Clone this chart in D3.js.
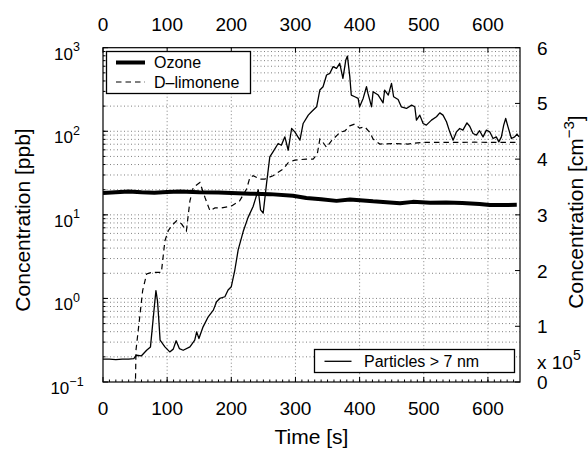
<!DOCTYPE html>
<html lang="en">
<head>
    <meta charset="UTF-8">
    <title>Ozone, D-limonene and particles</title>
    <script src="https://cdn.jsdelivr.net/npm/d3@7"></script>
    <style>
        body { margin: 0; background: #fff; }
        text { font-family: "Liberation Sans", Arial, Helvetica, sans-serif; fill: #000; }
    </style>
</head>
<body>
    <div id="chart"></div>
    <script>
        // data
        const timeTicks = [0, 100, 200, 300, 400, 500, 600];
        const ppbTicks = [0.1, 1, 10, 100, 1000];
        const ppbExponents = ["\u22121", "0", "1", "2", "3"];
        const particleTicks = [0, 1, 2, 3, 4, 5, 6];

        const ozoneTime = [0, 20, 40, 60, 80, 100, 120, 150, 180, 200, 230, 260, 296, 317, 340, 364, 385, 421, 447, 463, 483, 510, 535, 560, 587, 603, 625, 645];
        const ozonePpb = [18.3, 18.7, 19.0, 18.6, 18.4, 18.8, 19.0, 18.6, 18.5, 18.2, 17.9, 17.7, 16.9, 15.9, 15.4, 14.7, 15.3, 14.5, 14.1, 13.8, 14.3, 14.0, 14.1, 13.9, 13.5, 13.1, 13.1, 13.2];

        const limoneneTime = [50, 51.4, 56.6, 61.8, 68, 76, 91, 96.5, 101.7, 107,
            114.7, 122.6, 130, 135.5, 140.7, 151, 159, 166.7, 174.5, 185,
            200.5, 213, 223.8, 229, 234, 244.5, 252, 265, 281, 289,
            299, 317, 327.6, 334, 338, 343, 348.5, 356, 364, 369,
            377, 384.7, 392.5, 400, 408, 416, 421, 431.5, 454, 475,
            496, 537, 579, 620, 646];
        const limonenePpb = [0.05, 0.24, 0.54, 1.24, 1.96, 2.05, 2.05, 4.9, 6.45, 7.41,
            8.5, 7.76, 6.45, 14.7, 21.3, 24.4, 16.1, 11.2, 12.1, 12.1,
            12.8, 14.7, 20.4, 28.0, 29.4, 26.8, 26.8, 29.4, 35.3, 42.4,
            45.2, 46.5, 46.5, 53.3, 80.6, 73.5, 64.0, 76.9, 88.3, 96.8,
            101, 116, 122, 109, 113, 96.8, 80.6, 70.3, 71.5, 70.3,
            73.5, 73.5, 74, 73.5, 73.5];

        const particleTime = [0, 10, 20, 30, 40, 48, 52, 60, 68, 74,
            77, 80, 82.5, 85, 87, 89, 96.5, 104, 109.5, 114,
            119, 125, 135.5, 143, 146, 149.5, 156, 164, 172, 177,
            182, 190, 195, 200, 205.5, 210.7, 218.5, 226, 234, 242,
            245.6, 249.7, 255, 260, 265, 273, 278, 283.5, 288.7, 294,
            299, 307, 312, 320, 325, 333, 338, 343, 348.5, 353.6,
            358.7, 364, 369, 374, 378.5, 381, 384.7, 387, 392.5, 397.7,
            400, 405.5, 410.7, 413, 418.6, 421, 429, 436.6, 439, 444.7,
            449.7, 453, 460, 465, 473, 481, 486, 488.6, 493.8, 499,
            504, 512, 519.8, 525, 530, 535.4, 540.5, 545.7, 551, 556,
            561, 567.3, 571.6, 576.8, 582, 587, 592.4, 597.6, 602.8, 608,
            613, 617, 621, 624.6, 627.7, 631.3, 636.6, 641.7, 645.3, 648.6];
        // x 10^5 cm^-3
        const particleConc = [0.41, 0.41, 0.40, 0.41, 0.41, 0.42, 0.48, 0.47, 0.57, 0.63,
            0.99, 1.35, 1.64, 1.45, 1.11, 0.75, 0.63, 0.54, 0.59, 0.74,
            0.60, 0.57, 0.63, 0.75, 0.90, 0.78, 0.99, 1.17, 1.29, 1.44,
            1.50, 1.53, 1.65, 1.71, 2.01, 2.37, 2.70, 2.95, 3.15, 3.45,
            3.09, 3.03, 3.57, 4.04, 4.13, 4.28, 4.25, 4.40, 4.16, 4.55,
            4.49, 4.34, 4.64, 4.79, 4.85, 4.94, 5.24, 5.30, 5.51, 5.54,
            5.66, 5.63, 5.72, 5.45, 5.78, 5.85, 5.48, 5.15, 5.12, 5.09,
            4.94, 5.09, 5.30, 5.18, 4.94, 5.21, 5.15, 5.01, 5.24, 5.15,
            5.36, 5.12, 5.07, 4.94, 4.91, 4.97, 4.94, 4.70, 4.79, 4.64,
            4.61, 4.70, 4.76, 4.83, 4.79, 4.67, 4.49, 4.34, 4.49, 4.55,
            4.52, 4.65, 4.59, 4.46, 4.43, 4.51, 4.40, 4.52, 4.49, 4.37,
            4.40, 4.31, 4.40, 4.61, 4.73, 4.58, 4.37, 4.40, 4.45, 4.40];

        // layout
        const W = 588, H = 449;
        const plotL = 103, plotR = 520, plotT = 47.7, plotB = 382;

        const svg = d3.select("#chart").append("svg")
            .attr("width", W)
            .attr("height", H);

        const x = d3.scaleLinear().domain([0, 650]).range([plotL, plotR]);
        const yL = d3.scaleLog().domain([0.1, 1000]).range([plotB, plotT]);
        const yR = d3.scaleLinear().domain([0, 6]).range([plotB, plotT]);

        // grid: dotted horizontal lines at every log step, vertical at the time ticks
        const logSteps = [];
        for (let e = -1; e < 3; e++) {
            for (let k = 1; k < 10; k++) {
                const v = k * Math.pow(10, e);
                if (v > 0.1) logSteps.push(v);
            }
        }
        const grid = svg.append("g")
            .attr("stroke", "#555")
            .attr("stroke-width", 0.75)
            .attr("stroke-dasharray", "1,2.5");
        grid.selectAll(".hg").data(logSteps).join("line")
            .attr("x1", plotL).attr("x2", plotR)
            .attr("y1", d => yL(d)).attr("y2", d => yL(d));
        grid.selectAll(".vg").data(timeTicks.filter(d => d > 0)).join("line")
            .attr("x1", d => x(d)).attr("x2", d => x(d))
            .attr("y1", plotT).attr("y2", plotB);

        // curves
        svg.append("clipPath").attr("id", "plotclip")
            .append("rect")
            .attr("x", plotL).attr("y", plotT)
            .attr("width", plotR - plotL).attr("height", plotB - plotT);

        const lines = svg.append("g").attr("clip-path", "url(#plotclip)");

        const logLine = d3.line().x(d => x(d[0])).y(d => yL(d[1]));
        const linLine = d3.line().x(d => x(d[0])).y(d => yR(d[1]));

        lines.append("path")
            .datum(d3.zip(particleTime, particleConc))
            .attr("d", linLine)
            .attr("fill", "none")
            .attr("stroke", "#000")
            .attr("stroke-width", 1.3)
            .attr("stroke-linejoin", "round");

        lines.append("path")
            .datum(d3.zip(limoneneTime, limonenePpb))
            .attr("d", logLine)
            .attr("fill", "none")
            .attr("stroke", "#000")
            .attr("stroke-width", 1.2)
            .attr("stroke-dasharray", "5.5,4");

        lines.append("path")
            .datum(d3.zip(ozoneTime, ozonePpb))
            .attr("d", logLine)
            .attr("fill", "none")
            .attr("stroke", "#000")
            .attr("stroke-width", 4)
            .attr("stroke-linejoin", "round");

        // frame
        svg.append("rect")
            .attr("x", plotL).attr("y", plotT)
            .attr("width", plotR - plotL).attr("height", plotB - plotT)
            .attr("fill", "none")
            .attr("stroke", "#000")
            .attr("stroke-width", 1.2);

        // ticks (MATLAB style, pointing inside)
        const ticks = svg.append("g").attr("stroke", "#000").attr("stroke-width", 1);
        ticks.selectAll(".bt").data(timeTicks).join("line")
            .attr("x1", d => x(d)).attr("x2", d => x(d))
            .attr("y1", plotB).attr("y2", plotB - 5);
        ticks.selectAll(".bm").data(d3.range(10, 650, 10)).join("line")
            .attr("x1", d => x(d)).attr("x2", d => x(d))
            .attr("y1", plotB).attr("y2", plotB - 2.5);
        ticks.selectAll(".tt").data(timeTicks).join("line")
            .attr("x1", d => x(d)).attr("x2", d => x(d))
            .attr("y1", plotT).attr("y2", plotT + 5);
        ticks.selectAll(".lt").data(ppbTicks).join("line")
            .attr("x1", plotL).attr("x2", plotL + 5)
            .attr("y1", d => yL(d)).attr("y2", d => yL(d));
        ticks.selectAll(".lm").data(logSteps).join("line")
            .attr("x1", plotL).attr("x2", plotL + 2.5)
            .attr("y1", d => yL(d)).attr("y2", d => yL(d));
        ticks.selectAll(".rt").data(particleTicks).join("line")
            .attr("x1", plotR).attr("x2", plotR - 5)
            .attr("y1", d => yR(d)).attr("y2", d => yR(d));

        // tick labels
        svg.selectAll(".bl").data(timeTicks).join("text")
            .attr("x", d => x(d)).attr("y", 415)
            .attr("text-anchor", "middle")
            .attr("font-size", 19)
            .text(d => d);
        svg.selectAll(".tl").data(timeTicks).join("text")
            .attr("x", d => x(d)).attr("y", 30.7)
            .attr("text-anchor", "middle")
            .attr("font-size", 19)
            .text(d => d);

        const ll = svg.selectAll(".ll").data(ppbTicks).join("text")
            .attr("x", 67).attr("y", d => yL(d) + 12)
            .attr("text-anchor", "middle")
            .attr("font-size", 17);
        ll.append("tspan").text("10");
        ll.append("tspan")
            .attr("font-size", 12.5)
            .attr("dy", -8.5)
            .text((d, i) => ppbExponents[i]);

        svg.selectAll(".rl").data(particleTicks).join("text")
            .attr("x", 537).attr("y", d => yR(d) + 7)
            .attr("font-size", 19)
            .text(d => d);

        const mult = svg.append("text")
            .attr("x", 537).attr("y", 368.5)
            .attr("font-size", 19);
        mult.append("tspan").text("x 10");
        mult.append("tspan").attr("font-size", 14).attr("dy", -9).text("5");

        // axis titles
        svg.append("text")
            .attr("x", (plotL + plotR) / 2).attr("y", 444)
            .attr("text-anchor", "middle")
            .attr("font-size", 21)
            .text("Time [s]");

        svg.append("text")
            .attr("transform", "translate(29.5,220) rotate(-90)")
            .attr("text-anchor", "middle")
            .attr("font-size", 21)
            .text("Concentration [ppb]");

        const rt = svg.append("text")
            .attr("transform", "translate(583,212) rotate(-90)")
            .attr("text-anchor", "middle")
            .attr("font-size", 21);
        rt.append("tspan").text("Concentration [cm");
        rt.append("tspan").attr("font-size", 15).attr("dy", -9).text("\u22123");
        rt.append("tspan").attr("dy", 9).text("]");

        // legend for the left axis
        const leg1 = svg.append("g");
        leg1.append("rect")
            .attr("x", 106.5).attr("y", 51.5)
            .attr("width", 144).attr("height", 42)
            .attr("fill", "#fff")
            .attr("stroke", "#000")
            .attr("stroke-width", 1.3);
        leg1.append("line")
            .attr("x1", 116).attr("x2", 145).attr("y1", 62.5).attr("y2", 62.5)
            .attr("stroke", "#000").attr("stroke-width", 4);
        leg1.append("text")
            .attr("x", 154).attr("y", 68)
            .attr("font-size", 16)
            .text("Ozone");
        leg1.append("line")
            .attr("x1", 116).attr("x2", 145).attr("y1", 82).attr("y2", 82)
            .attr("stroke", "#000").attr("stroke-width", 1.2)
            .attr("stroke-dasharray", "5.5,4");
        leg1.append("text")
            .attr("x", 154).attr("y", 87.5)
            .attr("font-size", 16)
            .text("D\u2013limonene");

        // legend for the right axis
        const leg2 = svg.append("g");
        leg2.append("rect")
            .attr("x", 314.5).attr("y", 349.5)
            .attr("width", 200).attr("height", 23)
            .attr("fill", "#fff")
            .attr("stroke", "#000")
            .attr("stroke-width", 1.3);
        leg2.append("line")
            .attr("x1", 324.5).attr("x2", 351.5).attr("y1", 361.3).attr("y2", 361.3)
            .attr("stroke", "#000").attr("stroke-width", 1.3);
        leg2.append("text")
            .attr("x", 364).attr("y", 367)
            .attr("font-size", 16)
            .text("Particles > 7 nm");
    </script>
</body>
</html>
